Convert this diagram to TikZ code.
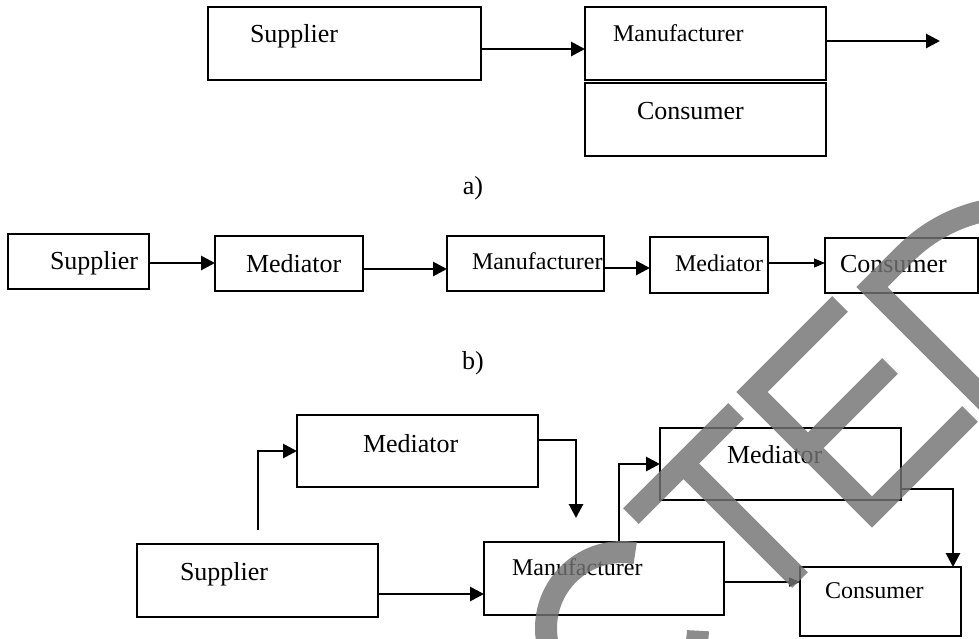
\documentclass[tikz,border=0pt]{standalone}
\usepackage{fontspec}
\setmainfont{Liberation Serif}
\usetikzlibrary{arrows.meta}
\newcommand{\boxtext}[3]{\makebox[#1][l]{\hspace*{#2}#3}}

\begin{document}
\begin{tikzpicture}[x=0.5pt, y=-0.5pt]
  \useasboundingbox (0,0) rectangle (979,638);

  \tikzstyle{blk}=[draw, line width=1pt, inner sep=0pt, outer sep=0pt, anchor=north west, font=\fontsize{13}{15}\selectfont]
  \tikzstyle{small}=[font=\fontsize{12}{14}\selectfont]
  \tikzstyle{arr}=[line width=1.4pt, -{Triangle[length=7pt, width=7pt]}]
  \tikzstyle{arrthin}=[line width=0.6pt, -{Triangle[length=5.5pt, width=4.5pt]}]
  \tikzstyle{wm}=[draw=black!55, draw opacity=0.82, line width=11pt, line join=miter]

  \node[blk, text height=17.5pt, text depth=19pt] (supA) at (208,7) {\boxtext{136.5pt}{21pt}{Supplier}};
  \node[blk, small, text height=17pt, text depth=19.5pt] (manA) at (585,7) {\boxtext{120.5pt}{14pt}{Manufacturer}};
  \node[blk, text height=18pt, text depth=18.5pt] (conA) at (585,83) {\boxtext{120.5pt}{26pt}{Consumer}};
  \coordinate (outA) at (940,41);
  \node[font=\fontsize{13}{15}\selectfont] (capA) at (473,188) {a)};

  \draw[arr] (supA.east |- 0,49) -- (manA.west |- 0,49);
  \draw[arr] (manA.east |- outA) -- (outA);

  \node[blk, text height=17.5pt, text depth=10pt] (supB) at (8,234) {\boxtext{70.5pt}{21pt}{Supplier}};
  \node[blk, text height=18pt, text depth=9.5pt] (medB1) at (215,236) {\boxtext{74pt}{15.5pt}{Mediator}};
  \node[blk, small, text height=16.5pt, text depth=11pt] (manB) at (447,236) {\boxtext{78.5pt}{12.5pt}{Manufacturer}};
  \node[blk, small, text height=17pt, text depth=11pt] (medB2) at (650,237) {\boxtext{59pt}{12.5pt}{Mediator}};
  \node[blk, text height=17pt, text depth=10.5pt] (conB) at (825,238) {\boxtext{76.5pt}{7.5pt}{Consumer}};
  \node[font=\fontsize{13}{15}\selectfont] (capB) at (473,363) {b)};

  \draw[arr] (supB.east |- 0,263) -- (medB1.west |- 0,263);
  \draw[arr] (medB1.east |- 0,269) -- (manB.west |- 0,269);
  \draw[arr] (manB.east |- 0,268) -- (medB2.west |- 0,268);
  \draw[arrthin] (medB2.east |- 0,263) -- (conB.west |- 0,263);

  \node[blk, text height=18.5pt, text depth=17.5pt] (medC1) at (297,415) {\boxtext{120.5pt}{33pt}{Mediator}};
  \node[blk, text height=18pt, text depth=18.5pt] (supC) at (137,544) {\boxtext{120.5pt}{21.5pt}{Supplier}};
  \node[blk, small, text height=16.5pt, text depth=20pt] (manC) at (484,542) {\boxtext{120pt}{14pt}{Manufacturer}};
  \node[blk, text height=17.5pt, text depth=18.5pt] (medC2) at (660,428) {\boxtext{120.5pt}{33.5pt}{Mediator}};
  \node[blk, small, text height=15.5pt, text depth=19pt] (conC) at (800,567) {\boxtext{80.5pt}{12.5pt}{Consumer}};
  \coordinate (upC) at (258,530);
  \coordinate (dnC) at (576,518);

  \draw[arr] (upC) |- (medC1.west);
  \draw[arr] (medC1.east |- 0,440) -| (dnC);
  \draw[arr] (supC.east |- 0,594) -- (manC.west |- 0,594);
  \draw[arr] (manC.north -| 619,0) |- (medC2.west);
  \draw[arr] (medC2.east |- 0,489) -| (conC.north -| 953,0);
  \draw[arrthin, line width=1pt] (manC.east |- 0,582) -- (conC.west |- 0,582);

  \begin{scope}
    \clip (0,0) rectangle (979,638);
    \draw[wm] (635.2,553.2) arc[start angle=-80, end angle=-358, radius=76];
    \draw[wm] (631,516) -- (736,411) (683,463) -- (800,580);
    \draw[wm] (840,304) -- (752,392) -- (872,512) -- (970,414) (808,448) -- (890,366);
    \draw[wm] (1010,425) -- (872,287) -- (905,254) arc[start angle=-135, end angle=-50, radius=160];
  \end{scope}
\end{tikzpicture}
\end{document}
